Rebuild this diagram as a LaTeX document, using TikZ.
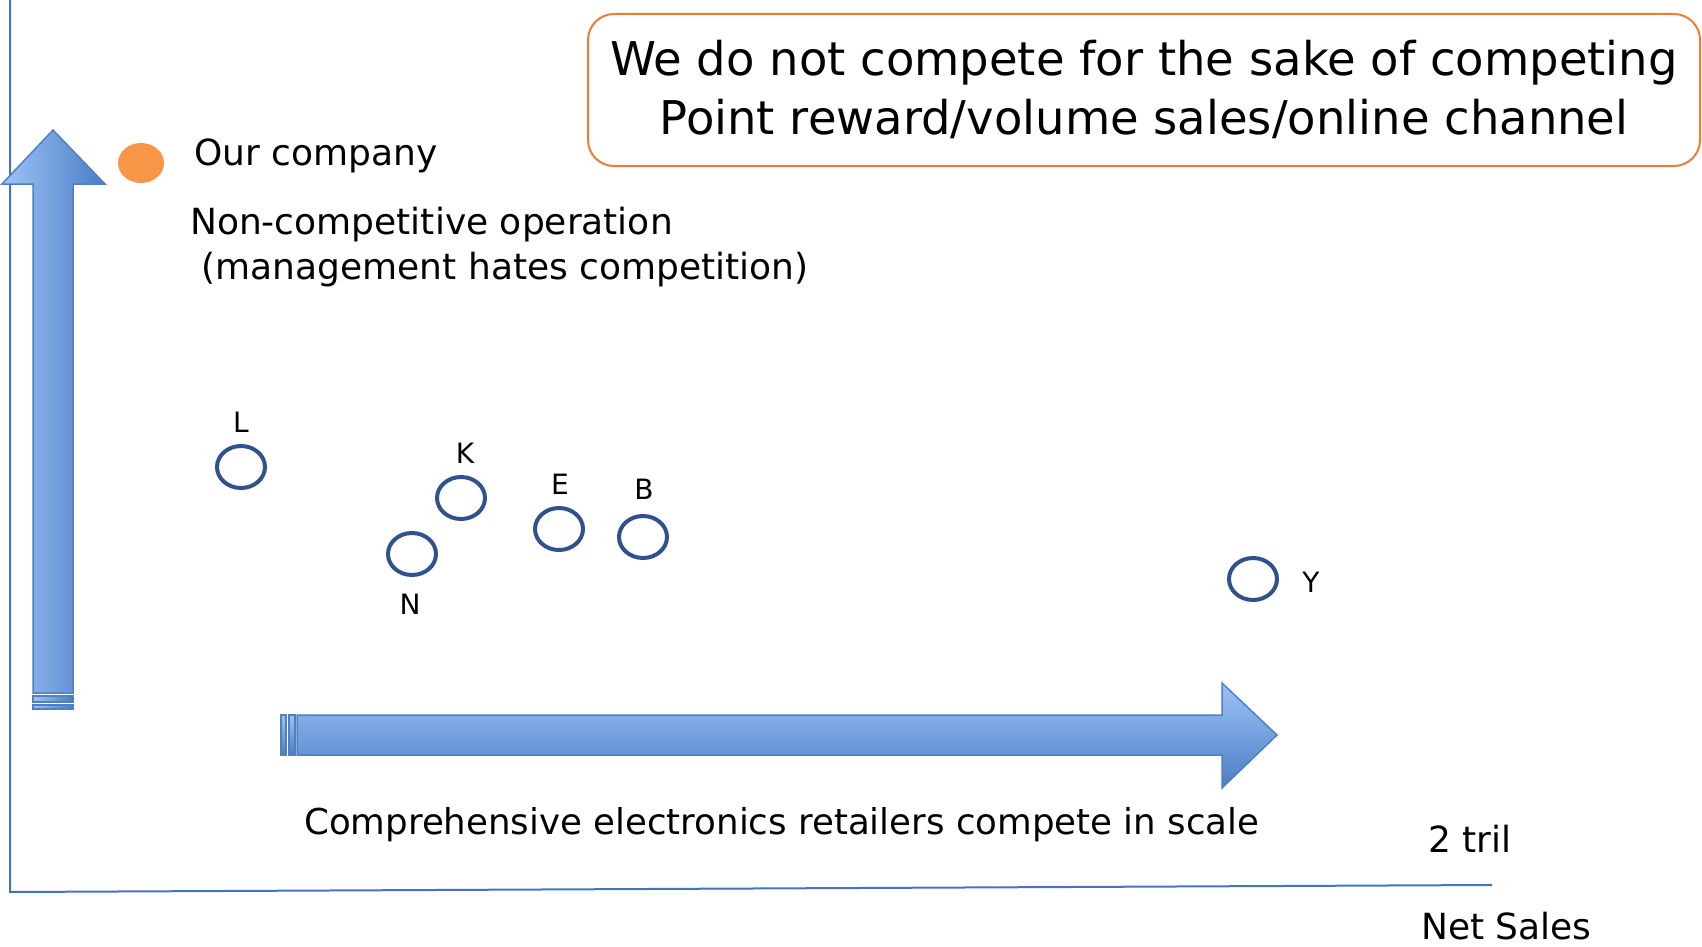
\documentclass[tikz,border=0pt]{standalone}
\usepackage{fontspec}
\setmainfont{DejaVu Sans}
\usetikzlibrary{shapes.geometric}
\definecolor{arrlight}{HTML}{9DC3F7}
\definecolor{arrdark}{HTML}{4A7DC6}
\definecolor{arredge}{HTML}{4F81BD}
\definecolor{axisblue}{HTML}{4472C4}
\definecolor{firmblue}{HTML}{2F528F}
\definecolor{dotorange}{HTML}{F79646}
\definecolor{boxorange}{HTML}{ED7D31}
\begin{document}
\begin{tikzpicture}[x=1pt,y=-1pt,
  firm/.style={draw=firmblue, line width=4pt, ellipse, minimum width=48pt, minimum height=42pt, inner sep=0pt},
  firmlabel/.style={anchor=base, font=\fontsize{28}{32}\selectfont},
  midtext/.style={anchor=base west, inner sep=0pt, font=\fontsize{36}{40}\selectfont},
  arrowbody/.style={draw=arredge, line width=1.5pt, line join=miter},
  axisline/.style={draw=axisblue, line width=2pt}
]
\useasboundingbox (0,0) rectangle (1702,947);

% axes
\coordinate (top) at (10,0);
\coordinate (origin) at (10,892);
\coordinate (xend) at (1492,885);
\draw[axisline] (top) -- (origin) -- (xend);

% vertical arrow
\path[arrowbody, left color=arrlight, right color=arrdark]
  (33,693) -- (33,184) -- (2,184) -- (53,130) -- (105,184) -- (73,184) -- (73,693) -- cycle;
\path[arrowbody, left color=arrlight, right color=arrdark] (33,696) rectangle (73,702);
\path[arrowbody, left color=arrlight, right color=arrdark] (33,705) rectangle (73,709);

% horizontal arrow
\path[arrowbody, top color=arrlight, bottom color=arrdark]
  (297,715) -- (1222,715) -- (1222,683) -- (1277,735) -- (1222,788) -- (1222,755) -- (297,755) -- cycle;
\path[arrowbody, top color=arrlight, bottom color=arrdark] (281,715) rectangle (286,755);
\path[arrowbody, top color=arrlight, bottom color=arrdark] (289,715) rectangle (295,755);

% our company
\node[ellipse, fill=dotorange, minimum width=46pt, minimum height=40pt, inner sep=0pt] (us) at (141,163) {};
\node[midtext] (uslabel) at (194,165) {Our company};
\node[midtext] (noncomp1) at (190,234) {Non-competitive operation};
\node[midtext] (noncomp2) at (190,279) {\ (management hates competition)};

% firms
\node[firm] (L) at (241,467) {};
\node[firm] (K) at (461,498) {};
\node[firm] (N) at (412,554) {};
\node[firm] (E) at (559,529) {};
\node[firm] (B) at (643,537) {};
\node[firm] (Y) at (1253,579) {};
\node[firmlabel] (Llab) at (241,432) {L};
\node[firmlabel] (Klab) at (465,463) {K};
\node[firmlabel] (Elab) at (560,494) {E};
\node[firmlabel] (Blab) at (644,499) {B};
\node[firmlabel] (Nlab) at (410,614) {N};
\node[firmlabel] (Ylab) at (1311,592) {Y};

% bottom texts
\node[midtext, font=\fontsize{35.6}{40}\selectfont] (scale) at (304,834) {Comprehensive electronics retailers compete in scale};
\node[midtext] (tril) at (1428,852) {2 tril};
\node[midtext] (netsales) at (1421,939) {Net Sales};

% box
\node[draw=boxorange, line width=2pt, rounded corners=26pt, minimum width=1112pt, minimum height=152pt] (box) at (1144,90) {};
\node[anchor=base, font=\fontsize{46.5}{50}\selectfont] (box1) at (1144,76) {We do not compete for the sake of competing};
\node[anchor=base, font=\fontsize{46.5}{50}\selectfont] (box2) at (1144,135) {Point reward/volume sales/online channel};
\end{tikzpicture}
\end{document}
